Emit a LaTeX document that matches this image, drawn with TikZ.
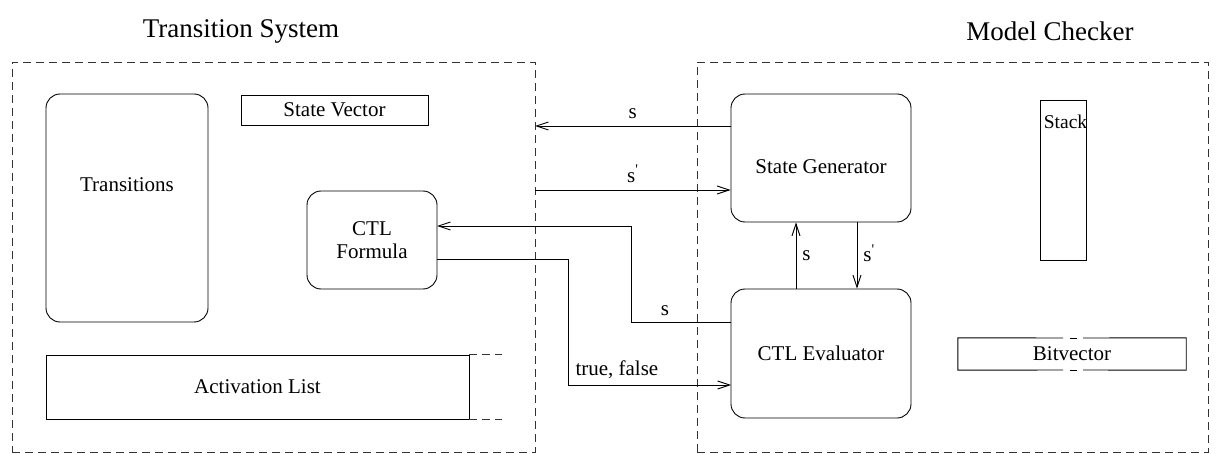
\documentclass[tikz,border=0pt]{standalone}
\usepackage{fontspec}
\setmainfont{Liberation Serif}
\usetikzlibrary{arrows.meta}
\begin{document}
\begin{tikzpicture}[x=1pt,y=-1pt,
  every node/.style={inner sep=0pt, font=\rmfamily\fontsize{21}{25}\selectfont},
  frame/.style={draw, line width=0.9pt, dash pattern=on 8pt off 5pt, color=black!80},
  rbox/.style={draw, line width=0.9pt, rounded corners=14pt},
  sbox/.style={draw, line width=0.9pt},
  title/.style={font=\rmfamily\fontsize{27}{32}\selectfont},
  conn/.style={line width=0.9pt, -{Straight Barb[length=12pt,width=8pt,line width=0.9pt]}},
  plain/.style={line width=0.9pt}
]
\useasboundingbox (0,0) rectangle (1220,454);

% titles
\node[title] (tstitle) at (241,31) {Transition System};
\node[title] (mctitle) at (1050,31) {Model Checker};

% dashed subsystem frames
\node[frame, minimum width=523pt, minimum height=390pt] (tsbox) at (273.5,257) {};
\node[frame, minimum width=511pt, minimum height=390pt] (mcbox) at (952.5,257) {};

% transition system parts
\node[rbox, minimum width=162pt, minimum height=228pt] (trans) at (127,208) {};
\node (transtext) at (127,185) {Transitions};
\node[sbox, minimum width=187pt, minimum height=30pt] (sv) at (334.5,110) {State Vector};
\node[rbox, minimum width=130pt, minimum height=98pt, align=center] (ctlf) at (372,240) {CTL\\[-2pt]Formula};
\node[sbox, minimum width=423pt, minimum height=64pt] (act) at (257.5,387) {Activation List};
\draw[frame] (act.north east) -- ++(33,0);
\draw[frame] (act.south east) -- ++(33,0);

% model checker parts
\node[rbox, minimum width=180pt, minimum height=128pt] (sg) at (821,158) {};
\node (sgtext) at (821,167) {State Generator};
\node[rbox, minimum width=180pt, minimum height=129pt] (ce) at (821,353.5) {CTL Evaluator};
\node[sbox, minimum width=46pt, minimum height=160pt] (stack) at (1063.5,180) {};
\node[font=\rmfamily\fontsize{19.5}{23}\selectfont] (stacktext) at (1065.5,122) {Stack};

% bitvector with a gap in its top and bottom edges
\node[minimum width=228pt, minimum height=32pt] (bv) at (1072,354) {Bitvector};
\draw[plain] (1063,338) -- (bv.north west) -- (bv.south west) -- (1063,370);
\draw[plain] (1083,338) -- (bv.north east) -- (bv.south east) -- (1083,370);
\draw[plain] (1070,338) -- (1077,338);
\draw[plain] (1070,370) -- (1077,370);

% connector end points on the frame
\coordinate (sout) at (535,126);
\coordinate (sin)  at (535,190);
\coordinate (upx)  at (796,0);
\coordinate (dnx)  at (857,0);
\coordinate (ceback) at (731,322);
\coordinate (fback)  at (437,226);
\coordinate (fout)   at (437,259);
\coordinate (ceres)  at (731,385);

% state exchange
\draw[conn] (sg.west |- sout) -- node[above=7pt] (ls1) {s} (sout);
\draw[conn] (sin) -- node[above=7pt] (ls2) {s\textsuperscript{\textquotesingle}} (sg.west |- sin);
\draw[conn] (ce.north -| upx) -- node[right=6pt] (ls3) {s} (sg.south -| upx);
\draw[conn] (sg.south -| dnx) -- node[right=6pt, yshift=2pt] (ls4) {s\textsuperscript{\textquotesingle}} (ce.north -| dnx);

% formula evaluation
\draw[conn] (ceback) -- node[above=6pt, pos=0.66] (ls5) {s} (631,322) -- (631,226) -- (fback);
\draw[conn] (fout) -- (568,259) -- (568,385) -- node[above=6pt, pos=0.3] (ltf) {true, false} (ceres);
\end{tikzpicture}
\end{document}
